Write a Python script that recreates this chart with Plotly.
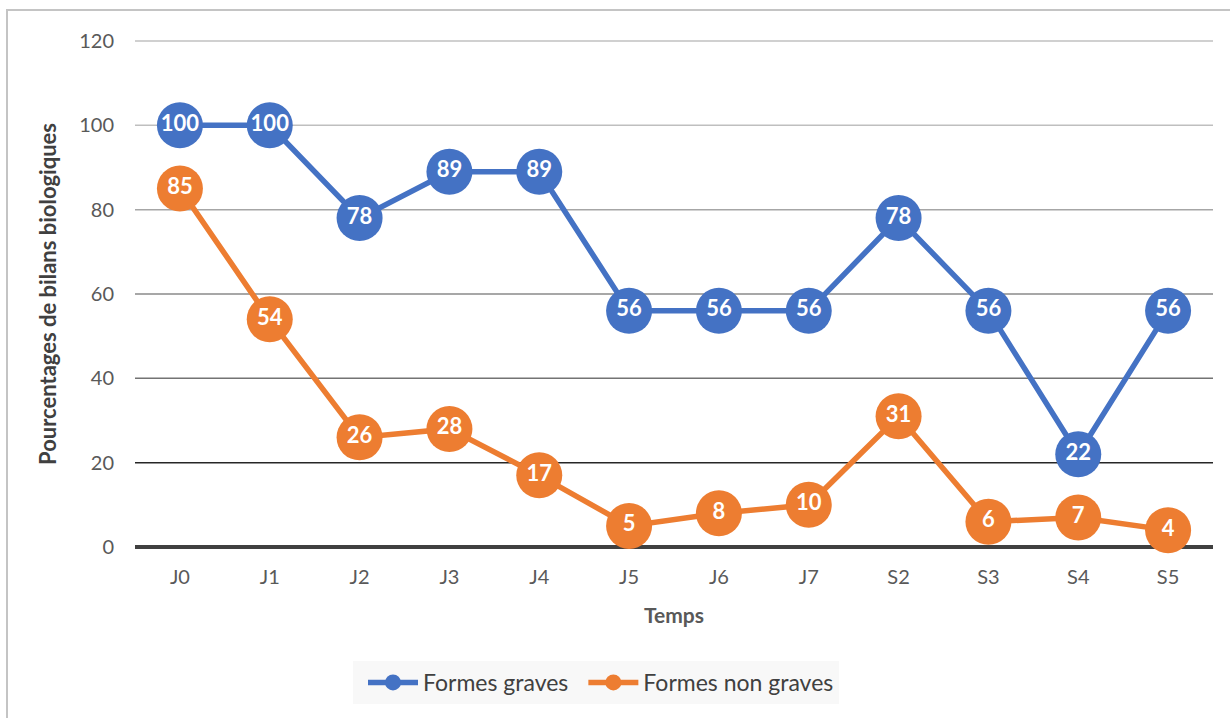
import plotly.graph_objects as go

categories = ["J0", "J1", "J2", "J3", "J4", "J5", "J6", "J7", "S2", "S3", "S4", "S5"]
graves = [100, 100, 78, 89, 89, 56, 56, 56, 78, 56, 22, 56]
non_graves = [85, 54, 26, 28, 17, 5, 8, 10, 31, 6, 7, 4]
y_ticks = [0, 20, 40, 60, 80, 100, 120]
grid_colors = ["#404040", "#262626", "#737373", "#8a8a8a", "#a6a6a6", "#bfbfbf", "#c0c0c0"]

BLUE = "#4472C4"
ORANGE = "#ED7D31"
FONT = "Lato"

fig = go.Figure()

def add_series(name, vals, color):
    fig.add_trace(go.Scatter(
        x=categories, y=vals, name=name, mode="lines+markers+text",
        line=dict(color=color, width=5.5),
        marker=dict(color=color, size=46, line=dict(width=0)),
        text=[str(v) for v in vals], textposition="middle center",
        textfont=dict(family=FONT, size=22, color="white", weight="bold"),
        cliponaxis=False,
    ))

add_series("Formes graves", graves, BLUE)
add_series("Formes non graves", non_graves, ORANGE)

shapes = []
for t, c in zip(y_ticks, grid_colors):
    yp = t / 120
    shapes.append(dict(type="line", xref="paper", yref="paper", x0=0, x1=1, y0=yp, y1=yp,
                       line=dict(color=c, width=4 if t == 0 else 1.5), layer="below"))
# outer chart border
shapes.append(dict(type="rect", xref="paper", yref="paper",
                   x0=(7 - 135) / 1078, x1=1.1, y0=-0.5, y1=(547 - 10) / 506,
                   line=dict(color="#c4c4c4", width=2), layer="below"))

fig.update_layout(
    width=1230, height=718,
    margin=dict(l=135, r=17, t=41, b=171),
    paper_bgcolor="white", plot_bgcolor="white",
    font=dict(family=FONT, color="#595959", size=20),
    shapes=shapes,
    xaxis=dict(type="category", range=[-0.5, 11.5], showgrid=False, zeroline=False,
               showline=False, ticks="", ticklabelstandoff=16,
               tickfont=dict(size=20, color="#595959"),
               title=dict(text="Temps", font=dict(size=21, color="#595959", weight="bold"), standoff=21)),
    yaxis=dict(range=[0, 120], tickvals=y_ticks, showgrid=False, zeroline=False,
               showline=False, ticks="", ticklabelstandoff=20,
               tickfont=dict(size=20, color="#595959"),
               title=dict(text="Pourcentages de bilans biologiques",
                          font=dict(size=22, color="#404040", weight="bold"), standoff=16)),
    legend=dict(orientation="h", x=(596 - 135) / 1078, xanchor="center",
                y=(547 - 661) / 506, yanchor="top",
                bgcolor="#f8f8f8", font=dict(size=23, color="#404040"),
                itemwidth=50, entrywidth=0, borderwidth=0,
                indentation=10),
    showlegend=True,
)

fig.write_html("out.html")
